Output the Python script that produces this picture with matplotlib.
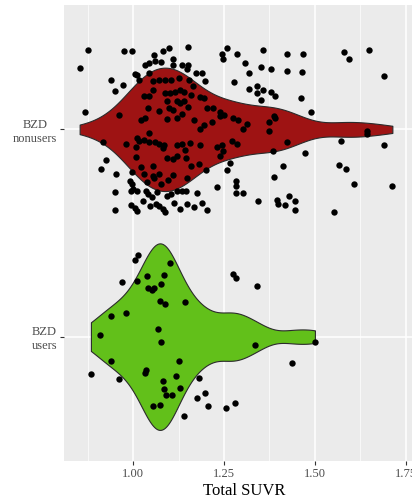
import numpy as np
import matplotlib.pyplot as plt

# Total SUVR values (x) and vertical jitter (category units)
nonusers_suvr = [
    0.875, 0.976, 0.997, 1.057, 1.083, 1.098, 1.150, 1.245, 1.259, 1.285, 1.357, 1.422, 1.467, 1.580, 1.593, 1.649, 1.248,
    0.853, 1.034, 1.044, 1.060, 1.076, 1.110, 1.111, 1.134, 1.150, 1.147, 1.308, 1.353, 1.378, 1.423, 1.465, 1.690,
    1.004, 1.010, 1.015, 1.043, 1.172, 1.189, 1.198, 1.318, 1.278, 0.939, 0.972, 0.950,
    1.318, 1.340, 1.357, 1.340, 1.351, 1.378, 1.391, 1.461, 1.490, 0.867,
    1.054, 1.072, 1.088, 1.105, 1.127, 1.154, 1.054, 1.030, 1.043, 1.089, 1.102, 1.114, 1.129, 1.139, 1.164, 1.183, 1.195,
    1.093, 1.120, 1.129, 1.141, 1.159, 1.041, 1.070, 1.099, 1.111, 1.152, 1.202, 1.220, 1.239, 1.239, 1.250, 1.276, 1.288,
    1.301, 1.312, 1.134, 1.120, 1.093, 1.033, 1.022, 0.961, 1.167, 1.196, 1.184, 1.217, 1.373, 1.391, 1.387, 1.373,
    1.642, 1.642,
    1.043, 1.010, 1.017, 1.030, 1.008, 1.044, 1.059, 1.072, 1.085, 1.082, 0.980, 0.916, 1.120, 1.134, 1.156, 1.184,
    1.232, 1.244, 1.271, 1.286, 1.422, 1.385, 1.572, 1.690, 1.472, 1.008, 1.022, 1.030, 1.056, 1.055, 1.071, 1.094,
    1.111, 1.120, 1.143, 1.145, 1.159, 1.180, 1.200, 1.239, 1.246, 1.266, 1.257, 1.111, 1.147, 1.097, 1.076, 1.037,
    1.058, 0.996,
    0.926, 0.912, 0.953, 0.950, 0.991, 0.997, 1.001, 1.011, 0.993, 1.035, 1.042, 1.051, 1.065, 1.093, 1.104, 1.120,
    1.134, 1.145, 1.177, 1.230, 1.282, 1.282, 1.282, 1.301, 1.413, 1.387, 1.566, 1.585, 1.607, 1.713, 1.343, 1.397,
    1.398, 1.419, 1.429, 1.444, 1.446, 1.552, 0.949, 0.995, 1.004, 1.011, 1.026, 1.047, 1.063, 1.071, 1.082, 1.089,
    1.113, 1.149, 1.168, 1.189, 1.203, 1.129,
]
nonusers_jit = [
    0.384, 0.377, 0.377, 0.361, 0.377, 0.393, 0.396, 0.365, 0.393, 0.364, 0.383, 0.365, 0.365, 0.373, 0.340, 0.383, 0.340,
    0.295, 0.312, 0.320, 0.332, 0.324, 0.340, 0.312, 0.312, 0.312, 0.290, 0.319, 0.301, 0.293, 0.280, 0.276, 0.256,
    0.268, 0.261, 0.240, 0.271, 0.272, 0.272, 0.232, 0.272, 0.228, 0.237, 0.216, 0.184,
    0.197, 0.208, 0.192, 0.176, 0.144, 0.181, 0.163, 0.153, 0.083, 0.086,
    0.232, 0.236, 0.236, 0.236, 0.248, 0.237, 0.188, 0.163, 0.163, 0.176, 0.175, 0.181, 0.188, 0.179, 0.208, 0.157, 0.152,
    0.139, 0.139, 0.128, 0.136, 0.168, 0.104, 0.088, 0.104, 0.093, 0.107, 0.104, 0.101, 0.085, 0.064, 0.069, 0.056, 0.045,
    0.002, 0.024, 0.072, 0.053, 0.048, 0.056, 0.043, 0.067, 0.045, 0.021, 0.003, 0.034, 0.037, 0.053, 0.063, -0.008,
    -0.008, -0.021,
    -0.016, -0.043, -0.056, -0.053, -0.083, -0.062, -0.059, -0.072, -0.075, -0.088, -0.072, -0.061, -0.075, -0.072,
    -0.067, -0.075, -0.083, -0.075, -0.058, -0.069, -0.062, -0.104, -0.058, -0.075, -0.115, -0.133, -0.181, -0.216,
    -0.179, -0.226, -0.216, -0.136, -0.141, -0.128, -0.101, -0.136, -0.179, -0.168, -0.196, -0.128, -0.104, -0.164,
    -0.196, -0.220, -0.233, -0.245, -0.263, -0.252, -0.237, -0.207,
    -0.147, -0.192, -0.213, -0.304, -0.248, -0.264, -0.288, -0.296, -0.296, -0.296, -0.312, -0.328, -0.304, -0.320,
    -0.312, -0.296, -0.296, -0.296, -0.309, -0.277, -0.248, -0.272, -0.309, -0.309, -0.176, -0.228, -0.171, -0.192,
    -0.264, -0.274, -0.348, -0.340, -0.361, -0.364, -0.321, -0.348, -0.389, -0.397, -0.388, -0.364, -0.377, -0.392,
    -0.348, -0.372, -0.361, -0.372, -0.385, -0.400, -0.356, -0.361, -0.376, -0.353, -0.387, -0.385,
]
users_suvr = [
    1.004, 1.014, 0.969, 1.012, 1.038, 1.085, 1.102, 1.040, 1.052, 1.058, 1.078, 1.073, 1.089, 1.144, 0.939, 0.981,
    1.069, 1.077, 0.909, 0.939, 0.884, 0.961, 1.033, 1.036, 1.127, 1.119, 1.082, 1.086, 1.091, 1.107, 1.129, 1.182,
    1.175, 1.198, 1.207, 1.141, 1.055, 1.073, 1.275, 1.283, 1.342, 1.334, 1.438, 1.500, 1.256, 1.279,
]
users_jit = [
    0.372, 0.394, 0.264, 0.269, 0.293, 0.295, 0.353, 0.237, 0.224, 0.237, 0.252, 0.174, 0.157, 0.167, 0.101, 0.114,
    0.038, -0.027, 0.006, -0.117, -0.179, -0.202, -0.176, -0.162, -0.119, -0.192, -0.216, -0.253, -0.280, -0.280,
    -0.248, -0.199, -0.296, -0.274, -0.337, -0.383, -0.335, -0.330, 0.304, 0.282, 0.244, -0.038, -0.125, -0.027,
    -0.343, -0.319,
]
groups = ["BZD\nusers", "BZD\nnonusers"]
fills = ["#62C01A", "#9E1313"]


def nrd0_kde(x):
    # gaussian kde, R-style bandwidth, trimmed to data range
    x = np.asarray(x)
    q75, q25 = np.percentile(x, [75, 25])
    bw = 0.9 * min(x.std(ddof=1), (q75 - q25) / 1.34) * len(x) ** -0.2
    grid = np.linspace(x.min(), x.max(), 512)
    dens = np.exp(-0.5 * ((grid[:, None] - x[None, :]) / bw) ** 2).sum(1)
    return grid, dens / (len(x) * bw * np.sqrt(2 * np.pi))


fig = plt.figure(figsize=(4.12, 4.99), dpi=100)
ax = fig.add_axes([64 / 412, 38 / 499, (424 - 64) / 412, 456 / 499])
ax.set_facecolor("#EBEBEB")

curves = [nrd0_kde(users_suvr), nrd0_kde(nonusers_suvr)]
dmax = max(d.max() for _, d in curves)
for pos, (grid, dens), col in zip([1, 2], curves, fills):
    half = 0.45 * dens / dmax
    ax.fill_between(grid, pos - half, pos + half, facecolor=col, edgecolor="#2B2B2B", lw=0.8, zorder=3)

ax.scatter(users_suvr, 1 + np.array(users_jit), s=21, color="black", lw=0, zorder=4)
ax.scatter(nonusers_suvr, 2 + np.array(nonusers_jit), s=21, color="black", lw=0, zorder=4)

ax.set_xlim(0.81, 1.80)
ax.set_ylim(0.4, 2.6)
ax.set_xticks([1.0, 1.25, 1.5, 1.75], ["1.00", "1.25", "1.50", "1.75"])
ax.set_xticks([0.875, 1.125, 1.375, 1.625], minor=True)
ax.set_yticks([1, 2], groups)
ax.grid(True, which="major", color="white", lw=1.1, zorder=0)
ax.grid(True, which="minor", axis="x", color="white", lw=0.5, zorder=0)
ax.set_axisbelow(True)
for s in ax.spines.values():
    s.set_visible(False)
ax.tick_params(which="major", length=3, color="#333333", labelcolor="#4D4D4D", labelsize=9, pad=2)
ax.tick_params(which="minor", length=0)
for lab in ax.get_xticklabels() + ax.get_yticklabels():
    lab.set_fontfamily("Liberation Serif")
for lab in ax.get_yticklabels():
    lab.set_multialignment("center")
ax.set_xlabel("Total SUVR", fontfamily="Liberation Serif", fontsize=12, labelpad=2)

fig.savefig("out.png", dpi=100)
plt.close()
